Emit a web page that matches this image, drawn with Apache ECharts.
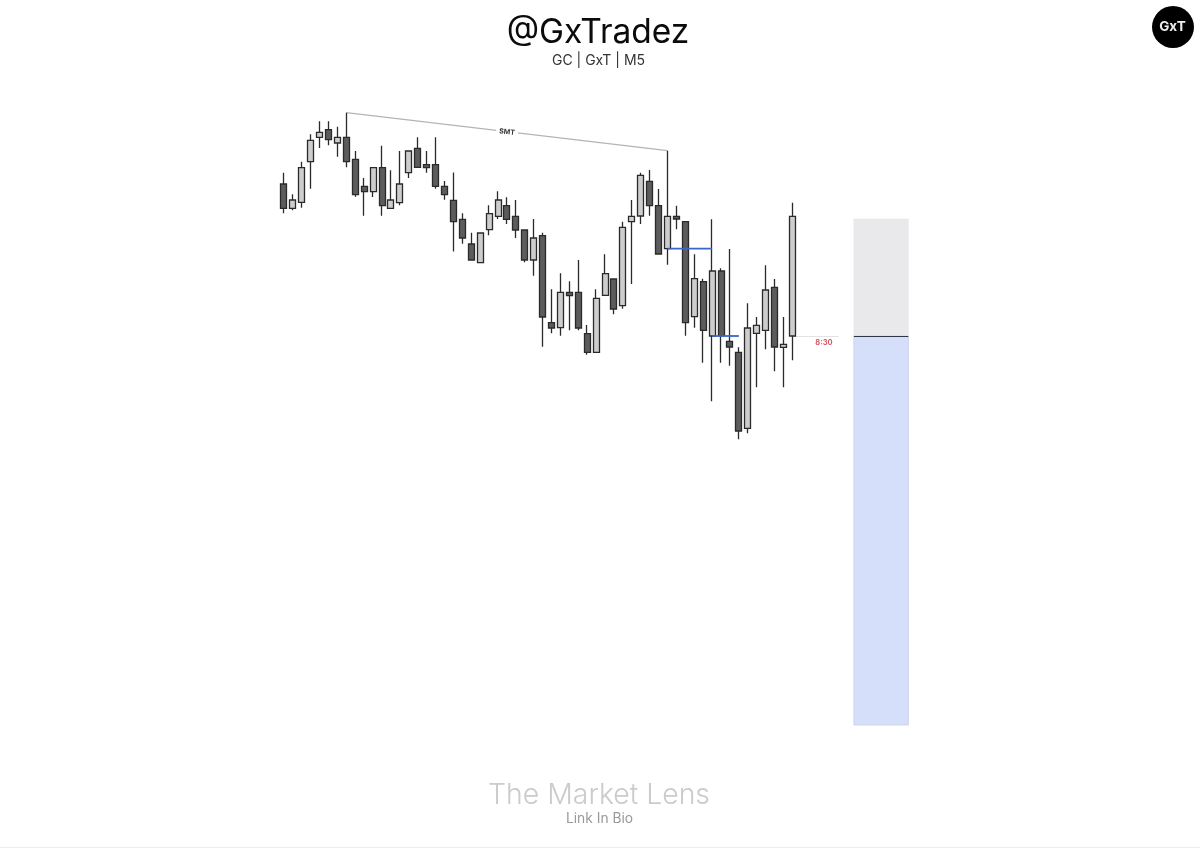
<!DOCTYPE html>
<html>
<head>
<meta charset="utf-8">
<style>html,body{margin:0;padding:0;background:#fff}#c{width:1200px;height:848px}</style>
<script src="https://cdn.jsdelivr.net/npm/echarts@6/dist/echarts.min.js"></script>
</head>
<body>
<div id="c"></div>
<script>
const opens = [664,639.7,645.7,686.3,710.7,718.3,705,710.7,688.7,661.7,656.3,680.3,639.7,645.3,675.3,699.7,683.3,683.3,661.7,647.7,628.7,604,585.3,618.3,631.7,642.3,631.7,618,588,612.3,525.3,520.3,555.7,555.7,514.3,495.7,552.7,569,542.3,626.3,632,666.7,642.3,599.3,631.7,626.3,531.3,566.3,512,577,506.7,495.7,419.7,514.7,517.7,560.7,500.7,512];
const closes = [639.7,648,680.3,707.7,715.7,708.3,710.7,686.3,653.3,656.3,680.3,642.3,648,664,697,680.7,680.3,661.7,653.3,626.3,610,588,615,634.3,648,628.7,618,588,610,531,520,555.7,552.3,520,495.7,549.7,574.3,539,620.7,631.7,672.7,642.3,594,631.7,629,525.3,569.3,517.7,577,512.3,501,417,520,522.7,558,501,503.7,631.7];
const lows = [634.7,637.7,640.3,659.3,700,702.7,691.3,680.7,651.3,632.3,651,632.3,639.7,642.7,670,680.7,675.3,659.3,648.3,596.5,604.3,588,585.3,612.7,629,624,610,585.7,572.3,501.3,514.7,512.3,517.7,517.7,493.3,495.7,552.7,533.7,539.3,564,624,632.3,594,583.3,618.7,512.3,520.3,485.3,446.7,485.3,482.3,408.7,414.7,460.7,498.7,476.7,460.7,487.7];
const highs = [675.3,653.7,686.3,713.7,726.7,726.7,721.3,735.3,697,670,680.3,702.3,677.7,697,697,710.7,697,710.7,667,675.5,634.7,615.3,615.3,642.7,656.7,650.7,648,618,629,615.3,558.7,574.7,566.7,588,523,558.7,593.7,569,626.3,648,675.3,678,659,697.3,642.3,626.3,593.7,569.3,628.7,579.7,599,500.7,544.7,531,582.7,569,531,645.3];
const candleLabels = highs.map((_, i) => 'C' + (i + 1));
const blankSlots = ['', '', '', '', '', '', '', '', '', '', '', '', '', ''];
const categories = candleLabels.concat(blankSlots);

const smtLine = [[7, 735.3], [43, 697.3]];
const blueLevelA = [[43, 599.3], [48, 599.3]];
const blueLevelB = [[48, 512], [51, 512]];
const timeLevel = [[57, 511.5], [62.2, 511.5]];
const premiumZone = [63.9, 70, 512, 629];
const discountZone = [63.9, 70, 123, 512];
const zoneDivider = [[63.9, 511.5], [70, 511.5]];

const candleData = opens.map((o, i) => [o, closes[i], lows[i], highs[i]]);

function zoneSeries(zone, color, edge) {
  return {
    type: 'custom', xAxisIndex: 1, silent: true, z: 1,
    data: [zone],
    renderItem: function (params, api) {
      const a = api.coord([api.value(0), api.value(3)]);
      const b = api.coord([api.value(1), api.value(2)]);
      return { type: 'rect', shape: { x: a[0], y: a[1], width: b[0] - a[0], height: b[1] - a[1] }, style: { fill: color, stroke: edge, lineWidth: 1 } };
    },
    encode: { x: [0, 1], y: [2, 3] }
  };
}
function levelSeries(data, color, width, z) {
  return { type: 'line', xAxisIndex: 1, data: data, symbol: 'none', silent: true, z: z,
    lineStyle: { color: color, width: width }, animation: false };
}

const chart = echarts.init(document.getElementById('c'), null, { renderer: 'canvas' });
chart.setOption({
  animation: false,
  backgroundColor: '#ffffff',
  title: [
    { text: '@GxTradez', left: 598, top: 16, padding: 0, textAlign: 'center', textStyle: { fontFamily: 'Inter', fontSize: 33.5, fontWeight: 400, color: '#0b0b0b' } },
    { text: 'GC | GxT | M5', left: 598.5, top: 54, padding: 0, textAlign: 'center', textStyle: { fontFamily: 'Inter', fontSize: 14, fontWeight: 400, color: '#333' } },
    { text: 'The Market Lens', left: 599, top: 781, padding: 0, textAlign: 'center', textStyle: { fontFamily: 'Inter', fontSize: 28.4, fontWeight: 300, color: '#cbcbcb' } },
    { text: 'Link In Bio', left: 599.5, top: 812, padding: 0, textAlign: 'center', textStyle: { fontFamily: 'Inter', fontSize: 13.8, fontWeight: 400, color: '#9a9a9a' } }
  ],
  grid: { left: 279.5, top: 0, width: 642.2, height: 848, containLabel: false },
  xAxis: [
    { type: 'category', data: categories, show: false, boundaryGap: true },
    { type: 'value', min: -0.5, max: 71.5, show: false }
  ],
  yAxis: { type: 'value', min: 0, max: 848, show: false, scale: false },
  series: [
    zoneSeries(premiumZone, '#e9e9eb', '#ececee'),
    zoneSeries(discountZone, '#d6dffa', '#ccd5ec'),
    levelSeries(timeLevel, '#e2e2e2', 1, 1),
    levelSeries(zoneDivider, '#2f3542', 1, 3),
    levelSeries(smtLine, '#b4b4b4', 1.2, 2),
    {
      type: 'candlestick', data: candleData, barWidth: 6.5, z: 4,
      itemStyle: { color: '#cdcdcd', color0: '#5c5c5c', borderColor: '#2a2a2a', borderColor0: '#2a2a2a', borderWidth: 1.3 }
    },
    levelSeries(blueLevelA, '#3a66c4', 1.8, 5),
    levelSeries(blueLevelB, '#3a66c4', 1.8, 5)
  ],
  graphic: [
    { type: 'circle', shape: { cx: 1173, cy: 27, r: 21 }, style: { fill: '#000' } },
    { type: 'text', x: 1172.5, y: 27, style: { text: 'GxT', fill: '#eee', font: '700 13.5px Inter', textAlign: 'center', textVerticalAlign: 'middle' } },
    { type: 'text', x: 507, y: 132, rotation: -0.1, z: 10, style: { text: 'SMT', fill: '#333', font: '700 7px Inter', textAlign: 'center', textVerticalAlign: 'middle', backgroundColor: '#fff', padding: [1, 3] } },
    { type: 'text', x: 824, y: 342.5, z: 10, style: { text: '8:30', fill: '#dc5a68', font: '700 7.5px Inter', textAlign: 'center', textVerticalAlign: 'middle' } },
    { type: 'line', shape: { x1: 0, y1: 847.5, x2: 1200, y2: 847.5 }, style: { stroke: '#ececec', lineWidth: 1 } }
  ]
});
</script>
</body>
</html>
